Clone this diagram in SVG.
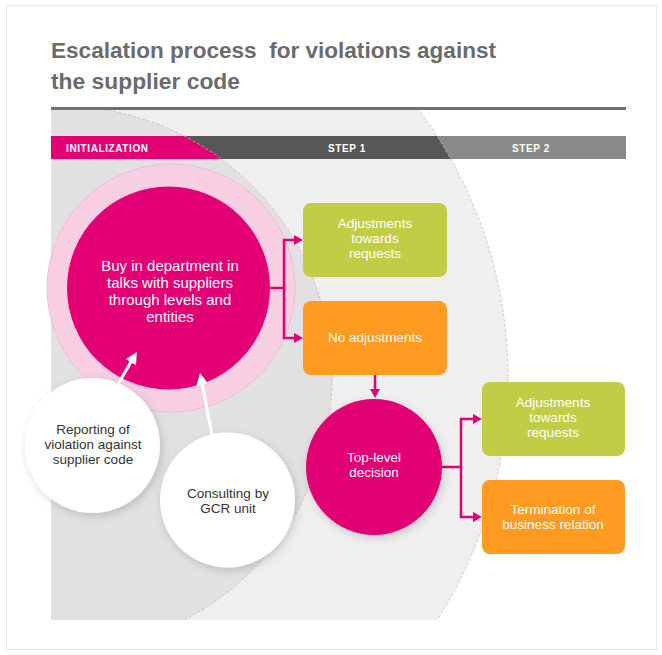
<svg xmlns="http://www.w3.org/2000/svg" width="662" height="655" viewBox="0 0 662 655">
<style>
.title{font-family:"Liberation Sans",Arial,sans-serif;font-weight:bold;font-size:22px;fill:#6b6b6b;white-space:pre}
.hdr{font-family:"Liberation Sans",Arial,sans-serif;font-weight:bold;font-size:10px;fill:#fff;letter-spacing:0.6px}
.wt{font-family:"Liberation Sans",Arial,sans-serif;font-size:13.5px;fill:#fff;text-anchor:middle}
.bt{font-family:"Liberation Sans",Arial,sans-serif;font-size:15px;fill:#fff;text-anchor:middle}
.dt{font-family:"Liberation Sans",Arial,sans-serif;font-size:13.5px;fill:#333;text-anchor:middle}
.arc{fill:none;stroke:#f0a3c6;stroke-width:0.8;stroke-dasharray:3 2}
.conn{fill:none;stroke:#e20074;stroke-width:2.5;stroke-linejoin:miter}
.warr{fill:none;stroke:#fff;stroke-width:3}
.green{fill:#c1cd45}
.orange{fill:#ff9b21}
.mag{fill:#e20074}
.white{fill:#fff}
</style>
<defs>
<clipPath id="area"><rect x="51" y="110" width="575" height="510"/></clipPath>
<clipPath id="bar"><rect x="51" y="136" width="575" height="23"/></clipPath>
<filter id="sh" x="-30%" y="-30%" width="160%" height="160%">
<feDropShadow dx="2" dy="3" stdDeviation="4" flood-color="#000" flood-opacity="0.16"/>
</filter>
<marker id="pa" markerUnits="userSpaceOnUse" markerWidth="9" markerHeight="10" refX="2" refY="5" orient="auto">
<path d="M0,0 L9,5 L0,10 z" fill="#e20074"/>
</marker>
<marker id="wa" markerUnits="userSpaceOnUse" markerWidth="12" markerHeight="12" refX="3" refY="6" orient="auto">
<path d="M0,0 L12,6 L0,12 z" fill="#fff"/>
</marker>
</defs>

<rect x="0" y="0" width="662" height="655" fill="#fff"/>
<rect x="6.5" y="5.5" width="650" height="644" fill="none" stroke="#e8e8e8" stroke-width="1"/>

<g id="title">
<text class="title" x="51" y="58" textLength="445" lengthAdjust="spacingAndGlyphs" xml:space="preserve">Escalation process  for violations against</text>
<text class="title" x="51" y="89" textLength="189" lengthAdjust="spacingAndGlyphs">the supplier code</text>
<line x1="51" y1="108.5" x2="626" y2="108.5" stroke="#707070" stroke-width="3"/>
</g>

<g id="background" clip-path="url(#area)">
<rect x="51" y="110" width="575" height="510" fill="#fff"/>
<circle cx="60" cy="378" r="448" fill="#efefef"/>
<circle cx="60" cy="378" r="272" fill="#e1e1e1"/>
</g>

<g id="header" clip-path="url(#bar)">
<rect x="51" y="136" width="575" height="23" fill="#898989"/>
<circle cx="60" cy="378" r="448" fill="#575757"/>
<circle cx="60" cy="378" r="272" fill="#e20074"/>
</g>
<g id="header-labels">
<text class="hdr" x="66" y="152">INITIALIZATION</text>
<text class="hdr" x="347" y="152" text-anchor="middle">STEP 1</text>
<text class="hdr" x="531" y="152" text-anchor="middle">STEP 2</text>
</g>

<g id="zone-arcs" clip-path="url(#area)">
<circle class="arc" cx="60" cy="378" r="448"/>
<circle class="arc" cx="60" cy="378" r="272"/>
</g>

<g id="buy-in">
<circle cx="171" cy="288" r="124" fill="#f8cfe2" stroke="#f3b3cf" stroke-width="0.8"/>
<circle class="mag" cx="168.5" cy="288" r="101.5"/>
<text class="bt" x="170" y="271">Buy in department in</text>
<text class="bt" x="170" y="288">talks with suppliers</text>
<text class="bt" x="170" y="305">through levels and</text>
<text class="bt" x="170" y="322">entities</text>
</g>

<g id="connectors">
<path class="conn" d="M270,288 H284"/>
<path class="conn" d="M284,289 V240 H296" marker-end="url(#pa)"/>
<path class="conn" d="M284,287 V338 H296" marker-end="url(#pa)"/>
<path class="conn" d="M375,375 V391" marker-end="url(#pa)"/>
<path class="conn" d="M442,467 H461"/>
<path class="conn" d="M461,468 V419 H475" marker-end="url(#pa)"/>
<path class="conn" d="M461,466 V517 H475" marker-end="url(#pa)"/>
<path class="warr" d="M117,386 L132.3,359.7" marker-end="url(#wa)"/>
<path class="warr" d="M213,440 L201.7,381.8" marker-end="url(#wa)"/>
</g>

<g id="adj1">
<rect class="green" x="303" y="203" width="144" height="74" rx="8"/>
<text class="wt" x="375" y="228">Adjustments</text>
<text class="wt" x="375" y="243">towards</text>
<text class="wt" x="375" y="258">requests</text>
</g>

<g id="noadj">
<rect class="orange" x="303" y="301" width="144" height="74" rx="8"/>
<text class="wt" x="375" y="342">No adjustments</text>
</g>

<g id="toplevel">
<circle class="mag" cx="374" cy="467" r="68" filter="url(#sh)"/>
<text class="wt" x="374" y="462">Top-level</text>
<text class="wt" x="374" y="477">decision</text>
</g>

<g id="adj2">
<rect class="green" x="482" y="382" width="143" height="74" rx="8"/>
<text class="wt" x="553" y="407">Adjustments</text>
<text class="wt" x="553" y="422">towards</text>
<text class="wt" x="553" y="437">requests</text>
</g>

<g id="termination">
<rect class="orange" x="482" y="480" width="143" height="74" rx="8"/>
<text class="wt" x="553" y="514">Termination of</text>
<text class="wt" x="553" y="529">business relation</text>
</g>

<g id="reporting">
<circle class="white" cx="92.5" cy="445.5" r="67.5" filter="url(#sh)"/>
<text class="dt" x="93" y="434">Reporting of</text>
<text class="dt" x="93" y="449">violation against</text>
<text class="dt" x="93" y="464">supplier code</text>
</g>

<g id="consulting">
<circle class="white" cx="227.5" cy="500" r="67.5" filter="url(#sh)"/>
<text class="dt" x="228" y="498">Consulting by</text>
<text class="dt" x="228" y="513">GCR unit</text>
</g>
</svg>
